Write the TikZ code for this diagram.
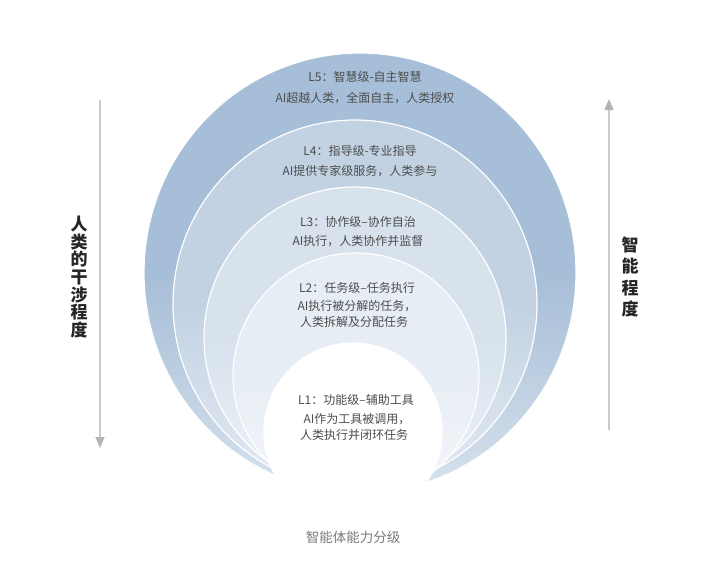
\documentclass[tikz,border=0pt]{standalone}
\usepackage{fontspec}
\newfontfamily\cjk{Noto Sans CJK SC}
\usetikzlibrary{arrows.meta}

\definecolor{ringfive}{HTML}{A6BED7}
\definecolor{ringfour}{HTML}{C2D2E3}
\definecolor{ringthree}{HTML}{D7E2ED}
\definecolor{ringtwo}{HTML}{E7EDF4}
\definecolor{txtgray}{HTML}{4D4D4D}
\definecolor{capgray}{HTML}{7A7A7A}
\definecolor{axisgray}{HTML}{CACACA}
\definecolor{tipgray}{HTML}{B4B4B4}

\tikzset{
  lvltext/.style={font=\cjk\fontsize{12}{17}\selectfont, text=txtgray, inner sep=0pt},
  sidetext/.style={font=\cjk\bfseries\fontsize{17}{17.6}\selectfont, text=black!85, align=center, inner sep=0pt},
  captext/.style={font=\cjk\fontsize{13.5}{16}\selectfont, text=capgray, inner sep=0pt},
  axisline/.style={draw=axisgray, line width=1.5pt, -{Triangle[width=9pt,length=11pt,color=tipgray]}},
  ring/.style={draw=white, line width=1.2pt}
}

\begin{document}
\begin{tikzpicture}[x=1pt, y=-1pt]
  \useasboundingbox (0,0) rectangle (720,571);

  % Nested rings, largest first, fading towards the bottom
  \foreach \cx/\cy/\rx/\ry/\col in {360/273/216/220/ringfive, 355/304/182/184/ringfour,
      355/338/151/151/ringthree, 356/376/123/123/ringtwo}
    \shadedraw[ring, top color=\col, bottom color=\col!45!white, middle color=\col]
      (\cx,\cy) ellipse[x radius=\rx, y radius=\ry];

  % Innermost white disc covers the meeting point
  \filldraw[ring, fill=white] (353,432) circle[radius=89];

  % Level labels
  \node[lvltext] (lfivehead) at (365,77) {L5：智慧级-自主智慧};
  \node[lvltext] (lfivebody) at (365,98) {AI超越人类，全面自主，人类授权};
  \node[lvltext] (lfourhead) at (360,151) {L4：指导级-专业指导};
  \node[lvltext] (lfourbody) at (360,171) {AI提供专家级服务，人类参与};
  \node[lvltext] (lthreehead) at (358,222) {L3：协作级–协作自治};
  \node[lvltext] (lthreebody) at (358,241) {AI执行，人类协作并监督};
  \node[lvltext] (ltwohead) at (357,288) {L2：任务级–任务执行};
  \node[lvltext] (ltwobody) at (357,306) {AI执行被分解的任务，};
  \node[lvltext] (ltwomore) at (354,322) {人类拆解及分配任务};
  \node[lvltext] (lonehead) at (356,400) {L1：功能级–辅助工具};
  \node[lvltext] (lonebody) at (357,419) {AI作为工具被调用，};
  \node[lvltext] (lonemore) at (354,435) {人类执行并闭环任务};

  % Side axes
  \coordinate (humantop) at (100,100);
  \coordinate (humanbot) at (100,448);
  \draw[axisline] (humantop) -- (humanbot);
  \node[sidetext] (human) at (79,277) {人\\类\\的\\干\\涉\\程\\度};

  \coordinate (smartbot) at (609,430);
  \coordinate (smarttop) at (609,99);
  \draw[axisline] (smartbot) -- (smarttop);
  \node[sidetext, font=\cjk\bfseries\fontsize{17}{21.3}\selectfont] (smart) at (630,277) {智\\能\\程\\度};

  % Caption
  \node[captext] (caption) at (353,537) {智能体能力分级};
\end{tikzpicture}
\end{document}
